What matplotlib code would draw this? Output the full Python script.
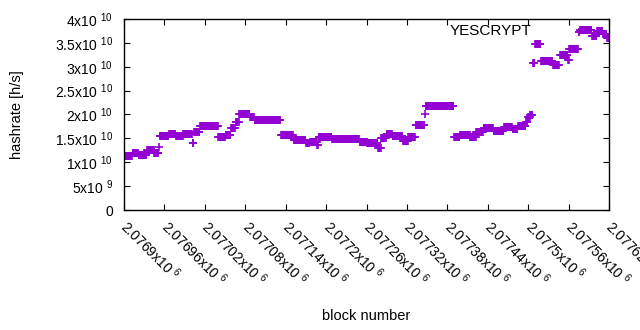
import numpy as np
import matplotlib
matplotlib.use('Agg')
import matplotlib.pyplot as plt

plt.rcParams['font.family'] = ['Liberation Sans', 'DejaVu Sans']
plt.rcParams['mathtext.fontset'] = 'custom'
plt.rcParams['mathtext.rm'] = 'Liberation Sans'
plt.rcParams['mathtext.it'] = 'Liberation Sans'

#hashrate is constant over runs of blocks, so keep it as runs
first_block = 2076900
last_block = 2077620
#start of each run (offset from first_block) and the hashrate in units of 1e10 h/s
seg_start = [0, 13, 22, 34, 45, 52, 53, 67, 77, 88, 102, 104, 113, 140, 151, 159,
             166, 171, 187, 194, 233, 252, 270, 276, 287, 289, 309, 350, 361, 377,
             382, 390, 399, 414, 422, 433, 447, 448, 490, 499, 514, 523, 534, 549,
             564, 577, 585, 597, 600, 603, 607, 610, 619, 637, 647, 659, 661, 675,
             677, 695, 702, 711, 717]
seg_value = [1.14, 1.19, 1.16, 1.25, 1.20, 1.32, 1.55, 1.60, 1.55, 1.60, 1.41, 1.64,
             1.75, 1.53, 1.57, 1.71, 1.84, 2.01, 1.94, 1.88, 1.57, 1.46, 1.40, 1.42,
             1.36, 1.52, 1.48, 1.42, 1.40, 1.29, 1.51, 1.60, 1.56, 1.45, 1.53, 1.79,
             2.00, 2.17, 1.53, 1.57, 1.53, 1.63, 1.71, 1.66, 1.74, 1.69, 1.75, 1.84,
             1.94, 1.98, 3.07, 3.47, 3.11, 3.03, 3.24, 3.14, 3.38, 3.72, 3.76, 3.65,
             3.74, 3.69, 3.60]

y_ticks = [0, 5e9, 1e10, 1.5e10, 2e10, 2.5e10, 3e10, 3.5e10, 4e10]
x_ticks = [2076900 + 60*i for i in range(13)]

#expand runs into one point per block
ends = seg_start[1:] + [last_block - first_block + 1]
blocks = []
rates = []
for s, e, v in zip(seg_start, ends, seg_value):
    for b in range(s, e):
        blocks.append(first_block + b)
        rates.append(v*1e10)

def sci_label(v):
    if v == 0:
        return '0'
    ex = int(np.floor(np.log10(v)))
    mant = v/10**ex
    return '%gx10 $^{%d}$' % (mant, ex)

fig = plt.figure(figsize=(6.4, 3.3), dpi=100)
ax = fig.add_axes([124/640, 1-210/330, 485/640, 191/330])

ax.plot(blocks, rates, linestyle='none', marker='+', markersize=5.3,
        markeredgewidth=1.2, color='#9400d3')

ax.set_xlim(first_block, last_block)
ax.set_ylim(0, 4e10)
ax.set_xticks(x_ticks)
ax.set_yticks(y_ticks)
ax.set_xticklabels(['%gx10 $^{6}$' % (v/1e6) for v in x_ticks],
                   rotation=-45, ha='left', va='center', rotation_mode='anchor', fontsize=10)
ax.set_yticklabels([sci_label(v) for v in y_ticks], fontsize=10)
ax.tick_params(direction='in', length=4, width=0.8, top=True, right=True)
ax.tick_params(axis='y', pad=8)
ax.tick_params(axis='x', pad=10)
for sp in ax.spines.values():
    sp.set_linewidth(1)

ax.set_ylabel('hashrate [h/s]', fontsize=10.5)
ax.set_xlabel('block number', fontsize=10.5)
ax.xaxis.set_label_coords(0.5, -0.52)
ax.yaxis.set_label_coords(-0.206, 0.5)
ax.text(0.841, 0.935, 'YESCRYPT', transform=ax.transAxes, ha='right', va='center', fontsize=11)

fig.savefig('out.png', dpi=100)
